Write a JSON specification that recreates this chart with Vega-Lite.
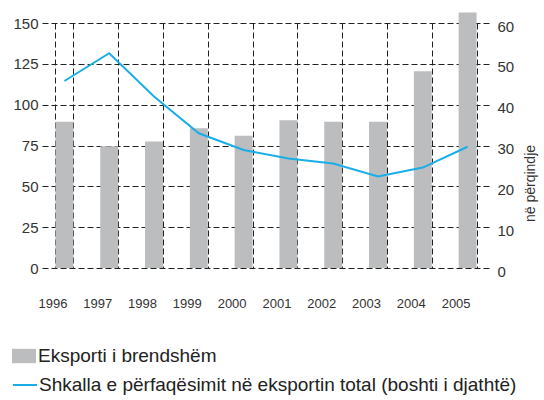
{
  "$schema": "https://vega.github.io/schema/vega-lite/v6.json",
  "autosize": {"type": "none"},
  "width": 448,
  "height": 245,
  "padding": {"left": 42, "top": 23, "right": 54, "bottom": 132},
  "background": "white",
  "config": {
    "view": {"stroke": null},
    "font": "Liberation Sans",
    "axis": {"labelColor": "#333", "titleColor": "#333", "labelFont": "Liberation Sans", "titleFont": "Liberation Sans", "titleFontWeight": "normal"},
    "legend": {"labelFont": "Liberation Sans", "labelColor": "#222", "labelLimit": 600}
  },
  "data": {
    "values": [
      {"year": "1996", "export": 89.5, "share": 45.8},
      {"year": "1997", "export": 74.5, "share": 52.6},
      {"year": "1998", "export": 77.5, "share": 42.0},
      {"year": "1999", "export": 85.5, "share": 33.0},
      {"year": "2000", "export": 81.0, "share": 28.9},
      {"year": "2001", "export": 90.5, "share": 26.8},
      {"year": "2002", "export": 89.5, "share": 25.6},
      {"year": "2003", "export": 89.5, "share": 22.4},
      {"year": "2004", "export": 120.5, "share": 24.6},
      {"year": "2005", "export": 156.5, "share": 29.7}
    ]
  },
  "encoding": {
    "x": {
      "field": "year",
      "type": "ordinal",
      "scale": {"paddingInner": 0.6, "paddingOuter": 0.3},
      "axis": {
        "title": null,
        "labelAngle": 0,
        "domain": false,
        "ticks": false,
        "tickBand": "extent",
        "grid": true,
        "gridColor": "#222",
        "gridDash": [6, 3],
        "gridWidth": 1,
        "gridOpacity": 1,
        "labelFontSize": 13,
        "labelPadding": 29,
        "labelOffset": -12
      }
    }
  },
  "layer": [
    {
      "mark": {"type": "bar"},
      "encoding": {
        "y": {
          "field": "export",
          "type": "quantitative",
          "scale": {"domain": [0, 150], "nice": false},
          "axis": {
            "title": null,
            "orient": "left",
            "values": [0, 25, 50, 75, 100, 125, 150],
            "domain": false,
            "ticks": false,
            "grid": true,
            "gridColor": "#222",
            "gridDash": [6, 3],
            "gridWidth": 1,
            "gridOpacity": 1,
            "labelFontSize": 15,
            "labelPadding": 4
          }
        },
        "fill": {
          "datum": "Eksporti i brendshëm",
          "scale": {"range": ["#bcbdbf"]},
          "legend": {
            "title": null,
            "orient": "none",
            "legendX": -30,
            "legendY": 321,
            "symbolType": "M-1,-0.6H1V0.6H-1Z",
            "symbolSize": 576,
            "symbolStrokeWidth": 0,
            "labelFontSize": 19,
            "labelOffset": 2
          }
        }
      }
    },
    {
      "mark": {"type": "line", "strokeWidth": 2},
      "encoding": {
        "y": {
          "field": "share",
          "type": "quantitative",
          "scale": {"domain": [0, 60], "nice": false},
          "axis": {
            "title": "në përqindje",
            "orient": "right",
            "values": [0, 10, 20, 30, 40, 50, 60],
            "domain": false,
            "ticks": false,
            "grid": false,
            "labelFontSize": 15,
            "labelPadding": 7,
            "labelBaseline": "top",
            "labelOffset": -4,
            "titleFontSize": 14,
            "titleAngle": 270,
            "titlePadding": 24,
            "titleY": 160
          }
        },
        "stroke": {
          "datum": "Shkalla e përfaqësimit në eksportin total (boshti i djathtë)",
          "scale": {"range": ["#1aaee8"]},
          "legend": {
            "title": null,
            "orient": "none",
            "legendX": -30,
            "legendY": 349,
            "symbolType": "stroke",
            "symbolSize": 576,
            "symbolStrokeWidth": 2,
            "labelFontSize": 19,
            "labelOffset": 1
          }
        }
      }
    }
  ],
  "resolve": {"scale": {"y": "independent", "fill": "independent", "stroke": "independent"}}
}
